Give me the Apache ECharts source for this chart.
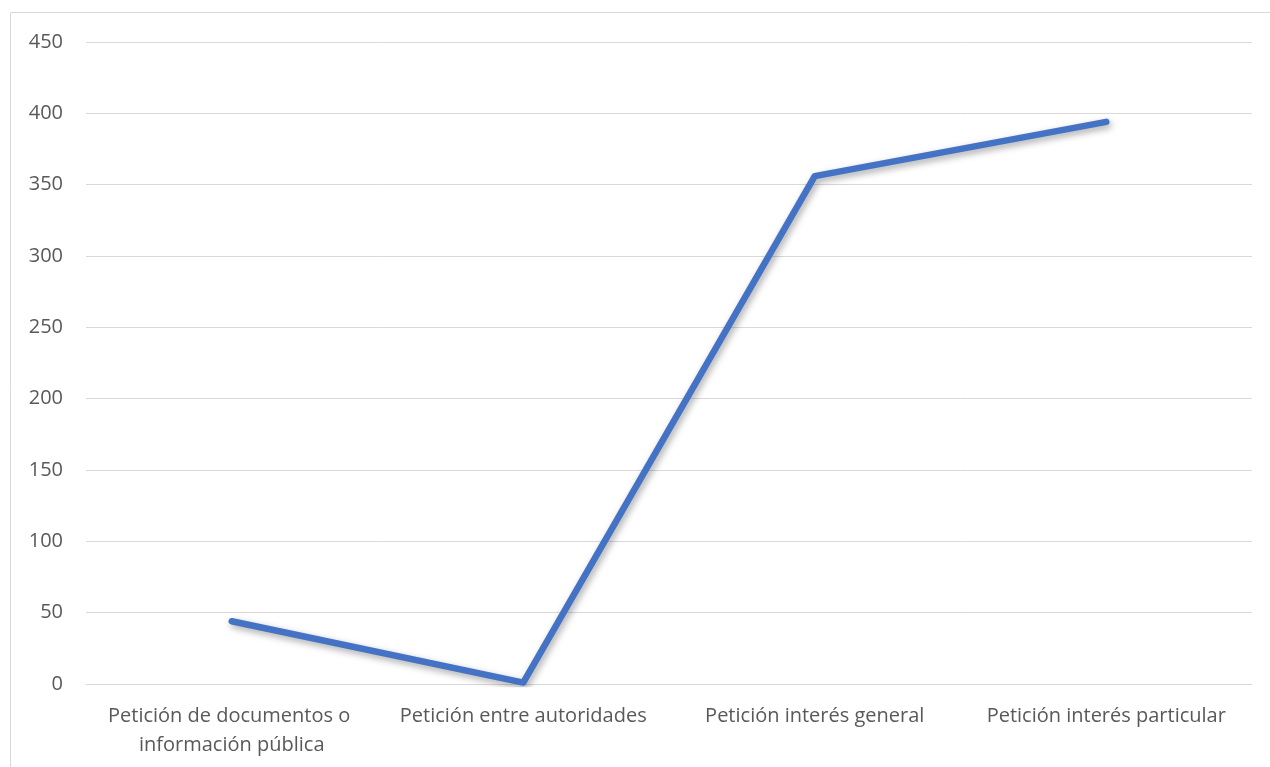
<!DOCTYPE html>
<html>
<head>
<meta charset="utf-8">
<script src="https://cdn.jsdelivr.net/npm/echarts@6/dist/echarts.min.js"></script>
<style>
  html, body { margin: 0; padding: 0; background: #ffffff; }
  #chart { width: 1270px; height: 767px; }
</style>
</head>
<body>
<div id="chart"></div>
<script>
// Tipos de petición y número de solicitudes
const categories = [
  'Petición de documentos o información pública',
  'Petición entre autoridades',
  'Petición interés general',
  'Petición interés particular'
];
const values = [44, 1, 356, 394];
const yTicks = { min: 0, max: 450, interval: 50 };

const chart = echarts.init(document.getElementById('chart'), null, { renderer: 'canvas' });

chart.setOption({
  animation: false,
  backgroundColor: '#ffffff',
  graphic: [{
    type: 'rect',
    shape: { x: 10.5, y: 12.5, width: 1300, height: 800 },
    style: { fill: 'none', stroke: '#d9d9d9', lineWidth: 1 },
    silent: true
  }],
  grid: { left: 86, right: 18, top: 42, bottom: 83 },
  xAxis: {
    type: 'category',
    data: categories,
    boundaryGap: true,
    axisLine: { lineStyle: { color: '#d9d9d9', width: 1 } },
    axisTick: { show: false },
    axisLabel: {
      interval: 0,
      margin: 18,
      color: '#595959',
      fontFamily: 'Open Sans',
      fontSize: 20,
      lineHeight: 29,
      width: 285,
      overflow: 'break',
      align: 'center'
    }
  },
  yAxis: {
    type: 'value',
    min: yTicks.min,
    max: yTicks.max,
    interval: yTicks.interval,
    axisLine: { show: false },
    axisTick: { show: false },
    splitLine: { lineStyle: { color: '#d9d9d9', width: 1 } },
    axisLabel: {
      margin: 23,
      color: '#595959',
      fontFamily: 'Open Sans',
      fontSize: 20
    }
  },
  series: [{
    type: 'line',
    data: values,
    symbol: 'none',
    lineStyle: {
      color: '#4472c4',
      width: 6.5,
      cap: 'round',
      join: 'round',
      shadowColor: 'rgba(0,0,0,0.35)',
      shadowBlur: 7,
      shadowOffsetX: 2,
      shadowOffsetY: 3
    }
  }]
});
</script>
</body>
</html>
